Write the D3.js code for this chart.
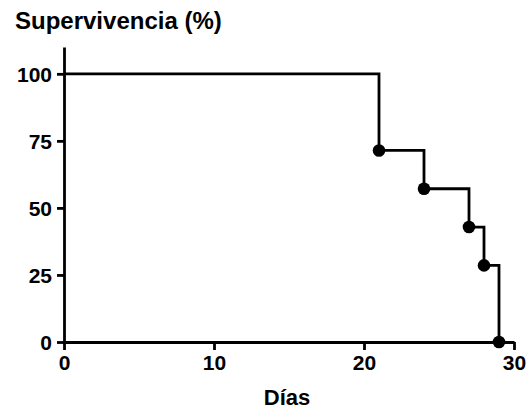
<!DOCTYPE html>
<html>
<head>
<meta charset="utf-8">
<script src="https://cdn.jsdelivr.net/npm/d3@7"></script>
<style>
  body { margin: 0; background: #fff; }
  text { font-family: "Liberation Sans", Arial, sans-serif; font-weight: bold; fill: #000; }
</style>
</head>
<body>
<div id="chart"></div>
<script>
// Kaplan-Meier data
const days = [0, 21, 24, 27, 28, 29]
const survival = [100, 71.43, 57.14, 42.86, 28.57, 0]
const xTicks = [0, 10, 20, 30]
const yTicks = [0, 25, 50, 75, 100]

const width = 527
const height = 410
const margin = { top: 47, right: 13, bottom: 68, left: 64 }

const x = d3.scaleLinear().domain([0, 30]).range([margin.left, width - margin.right])
const y = d3.scaleLinear().domain([0, 110]).range([height - margin.bottom, margin.top])

const svg = d3.select('#chart')
	.append('svg')
	.attr('width', width)
	.attr('height', height)

// axes
const xAxis = svg.append('g')
	.attr('transform', `translate(0,${y(0)})`)
	.call(d3.axisBottom(x).tickValues(xTicks).tickSizeInner(8).tickSizeOuter(0).tickPadding(5))

const yAxis = svg.append('g')
	.attr('transform', `translate(${x(0)},0)`)
	.call(d3.axisLeft(y).tickValues(yTicks).tickSizeInner(7).tickSizeOuter(0).tickPadding(5))

svg.selectAll('.domain, .tick line')
	.attr('stroke', '#000')
	.attr('stroke-width', 2.8)

svg.selectAll('.tick text')
	.attr('font-size', 21)
	.attr('font-family', '"Liberation Sans", Arial, sans-serif')
	.attr('font-weight', 'bold')
	.attr('fill', '#000')

yAxis.selectAll('.tick text').attr('dy', '0.36em')
xAxis.selectAll('.tick text').attr('dy', '0.72em')

// survival step line
const pts = days.map((d, i) => [d, survival[i]])
const line = d3.line()
	.x(d => x(d[0]))
	.y(d => y(d[1]))
	.curve(d3.curveStepAfter)

svg.append('path')
	.datum(pts)
	.attr('d', line)
	.attr('fill', 'none')
	.attr('stroke', '#000')
	.attr('stroke-width', 2.8)

// event markers
svg.selectAll('circle.event')
	.data(pts.slice(1))
	.enter()
	.append('circle')
	.attr('class', 'event')
	.attr('cx', d => x(d[0]))
	.attr('cy', d => y(d[1]))
	.attr('r', 6.3)
	.attr('fill', '#000')

// titles
svg.append('text')
	.attr('x', 15)
	.attr('y', 29)
	.attr('font-size', 24)
	.text('Supervivencia (%)')

svg.append('text')
	.attr('x', (x(0) + x(30)) / 2 - 2)
	.attr('y', 405)
	.attr('text-anchor', 'middle')
	.attr('font-size', 22)
	.text('Días')
</script>
</body>
</html>
